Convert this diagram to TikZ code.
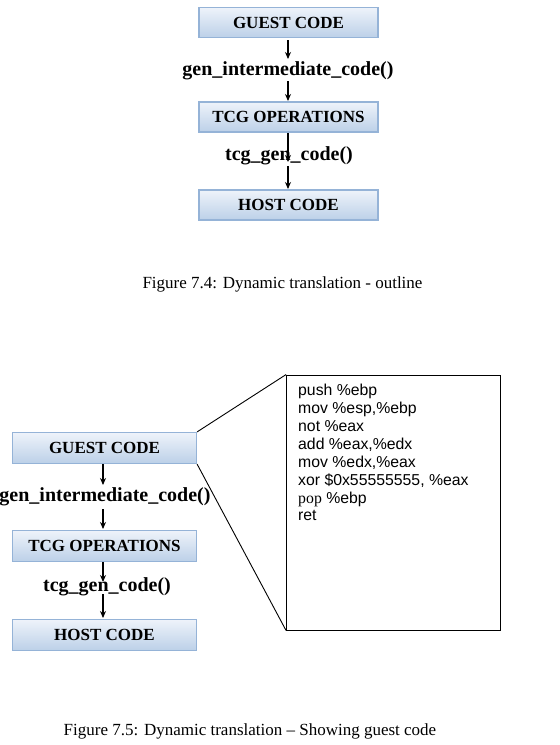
\documentclass[tikz,border=0pt]{standalone}
\usepackage{fontspec}
\setmainfont{Liberation Serif}
\newfontfamily\codefont{Liberation Sans}
\usetikzlibrary{arrows.meta}
\definecolor{boxtop}{HTML}{EEF3FA}
\definecolor{boxbot}{HTML}{BCD0E8}
\definecolor{boxedge}{HTML}{95B3D7}
\tikzset{
  blockbox/.style={draw=boxedge, line width=1.2pt, top color=boxtop, bottom color=boxbot,
    minimum height=30pt, inner sep=0pt, font=\fontsize{17}{20}\selectfont\bfseries},
  funclabel/.style={inner sep=0pt, font=\fontsize{20}{24}\selectfont\bfseries},
  flowarrow/.style={-{Stealth[length=7pt,width=6pt]}, line width=1.3pt},
  captionlabel/.style={inner sep=0pt, font=\fontsize{17}{20}\selectfont},
  thinline/.style={line width=0.9pt},
}
\begin{document}
\begin{tikzpicture}[x=1pt,y=-1pt]
\useasboundingbox (0,0) rectangle (560,745);
% ---- Figure 7.4 ----
\node[blockbox, minimum width=179pt] (g1) at (288.5,22.5) {\raisebox{-1.5pt}{GUEST CODE}};
\node[funclabel] (f1) at (288,71) {gen\_intermediate\_code()};
\node[blockbox, minimum width=179pt] (t1) at (288.5,117) {\raisebox{-1.5pt}{TCG OPERATIONS}};
\node[funclabel] (c1) at (289,156) {tcg\_gen\_code()};
\node[blockbox, minimum width=179pt] (h1) at (288.5,205) {\raisebox{-1.5pt}{HOST CODE}};
\coordinate (a1s) at (288,40);
\coordinate (a1e) at (288,59);
\coordinate (a2s) at (288,81);
\coordinate (a2e) at (288,101);
\coordinate (a3s) at (288,133);
\coordinate (a3e) at (288,162);
\coordinate (a4s) at (288,166);
\coordinate (a4e) at (288,189);
\draw[flowarrow] (a1s) -- (a1e);
\draw[flowarrow] (a2s) -- (a2e);
\draw[flowarrow] (a3s) -- (a3e);
\draw[flowarrow] (a4s) -- (a4e);
\node[captionlabel] (cap1) at (282.5,284) {Figure 7.4: Dynamic translation - outline};
% ---- Figure 7.5 ----
\node[blockbox, minimum width=184pt, minimum height=31pt] (g2) at (104.5,448) {\raisebox{-1.5pt}{GUEST CODE}};
\node[funclabel] (f2) at (105,497) {gen\_intermediate\_code()};
\node[blockbox, minimum width=184pt, minimum height=31pt] (t2) at (104.5,546) {\raisebox{-1.5pt}{TCG OPERATIONS}};
\node[funclabel] (c2) at (107,587) {tcg\_gen\_code()};
\node[blockbox, minimum width=184pt, minimum height=31pt] (h2) at (104.5,635) {\raisebox{-1.5pt}{HOST CODE}};
\coordinate (b1s) at (103,464);
\coordinate (b1e) at (103,485);
\coordinate (b2s) at (103,509);
\coordinate (b2e) at (103,529);
\coordinate (b3s) at (103,562);
\coordinate (b3e) at (103,582);
\coordinate (b4s) at (103,594);
\coordinate (b4e) at (103,618);
\draw[flowarrow] (b1s) -- (b1e);
\draw[flowarrow] (b2s) -- (b2e);
\draw[flowarrow] (b3s) -- (b3e);
\draw[flowarrow] (b4s) -- (b4e);
% code box
\node[draw, thinline, minimum width=214pt, minimum height=255pt, inner sep=0pt] (code) at (393.5,502.5) {};
\node[anchor=north west, inner sep=0pt, align=left,
  font=\codefont\fontsize{15.8}{17.9}\selectfont] (codetext) at (298,384)
  {push \%ebp\\
   mov \%esp,\%ebp\\
   not \%eax\\
   add \%eax,\%edx\\
   mov \%edx,\%eax\\
   xor \$0x55555555, \%eax\\
   {\rmfamily pop} \%ebp\\
   ret};
\draw[thinline] (g2.north east) -- (code.north west);
\draw[thinline] (g2.south east) -- (code.south west);
\node[captionlabel] (cap2) at (250,731) {Figure 7.5: Dynamic translation -- Showing guest code};
\end{tikzpicture}
\end{document}
